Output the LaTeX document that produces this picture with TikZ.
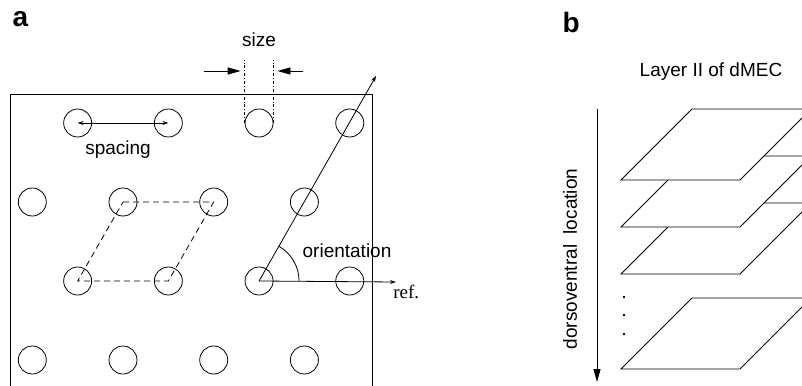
\documentclass[tikz,border=0pt]{standalone}
\usepackage{fontspec}
\setmainfont{Liberation Serif}
\setsansfont{Liberation Sans}
\usetikzlibrary{arrows.meta,positioning}

\begin{document}
\begin{tikzpicture}[x=1pt, y=-1pt, line width=0.8pt,
    field/.style={circle, draw, minimum size=28pt, inner sep=0pt},
    lbl/.style={font=\sffamily\fontsize{19}{19}\selectfont},
    panel/.style={font=\sffamily\bfseries\fontsize{28}{28}\selectfont},
    layer/.style={draw, fill=white},
    bigarrow/.style={-{Triangle[length=13pt, width=7pt]}},
    smallarrow/.style={-{Stealth[length=6pt, width=4pt]}}
  ]
    \useasboundingbox (0,0) rectangle (802,385);
    \clip (0,0) rectangle (802,385);

    % panel a: the firing fields of one grid cell
    \node[panel, anchor=base west] (la) at (9,27) {a};
    \draw (10,390) -- (10,94) -- (372,94) -- (372,390);
    \foreach \r in {1,...,4}
      \foreach \c in {1,...,4} {
        \pgfmathsetmacro\gx{32.3+90.7*(\c-1)+45.35*mod(\r,2)}
        \node[field] (g\r\c) at (\gx,{123+79*(\r-1)}) {};
      }

    % spacing
    \draw[line width=0.6pt, {Stealth[length=6pt, width=4pt]}-{Stealth[length=6pt, width=4pt]}] (g11.center) -- (g12.center);
    \node[lbl, anchor=base] (spc) at (118,154) {spacing};

    % size
    \coordinate (sl) at (g13.west |- 0,60);
    \coordinate (sr) at (g13.east |- 0,60);
    \draw[dash dot, line width=0.6pt] (g13.west) -- (sl);
    \draw[dash dot, line width=0.6pt] (g13.east) -- (sr);
    \coordinate (al) at (204,71);
    \coordinate (ar) at (303,71);
    \draw[bigarrow] (al) -- ([xshift=-4pt]sl |- al);
    \draw[bigarrow] (ar) -- ([xshift=4pt]sr |- ar);
    \node[lbl, anchor=base] (sz) at (259,47) {size};

    % the lattice cell
    \draw[dashed, dash pattern=on 6pt off 4pt] (g22.center) -- (g23.center) -- (g32.center) -- (g31.center) -- cycle;

    % orientation against the reference axis
    \coordinate (ot) at (376,76);
    \coordinate (rt) at (396,282);
    \draw[smallarrow] (g33.center) -- (ot);
    \draw[smallarrow] (g33.center) -- (rt);
    \draw (g33.center) ++(40,0) arc[start angle=0, end angle=-60, radius=40];
    \node[lbl, anchor=base] (ori) at (347,257) {orientation};
    \node[font=\fontsize{19}{19}\selectfont, anchor=base west, inner sep=0pt] (ref) at (393,298) {ref.};

    % panel b: stacked sheets along the dorsoventral axis
    \node[panel, anchor=base west] (lb) at (559,33) {b};
    \node[lbl, anchor=base] (title) at (711,77) {Layer II of dMEC};
    \coordinate (top) at (597,109);
    \coordinate (bot) at (597,382);
    \draw[bigarrow] (top) -- (bot);
    \node[lbl, rotate=90] (dv) at (570,259) {dorsoventral\ \ location};
    \foreach \yb in {369,274,227,180}
      \draw[layer] (621,\yb) -- (740,\yb) -- (811,\yb-71) -- (692,\yb-71) -- cycle;
    \foreach \yd in {297,315,334}
      \fill (624,\yd) circle[radius=1.3];
\end{tikzpicture}
\end{document}
